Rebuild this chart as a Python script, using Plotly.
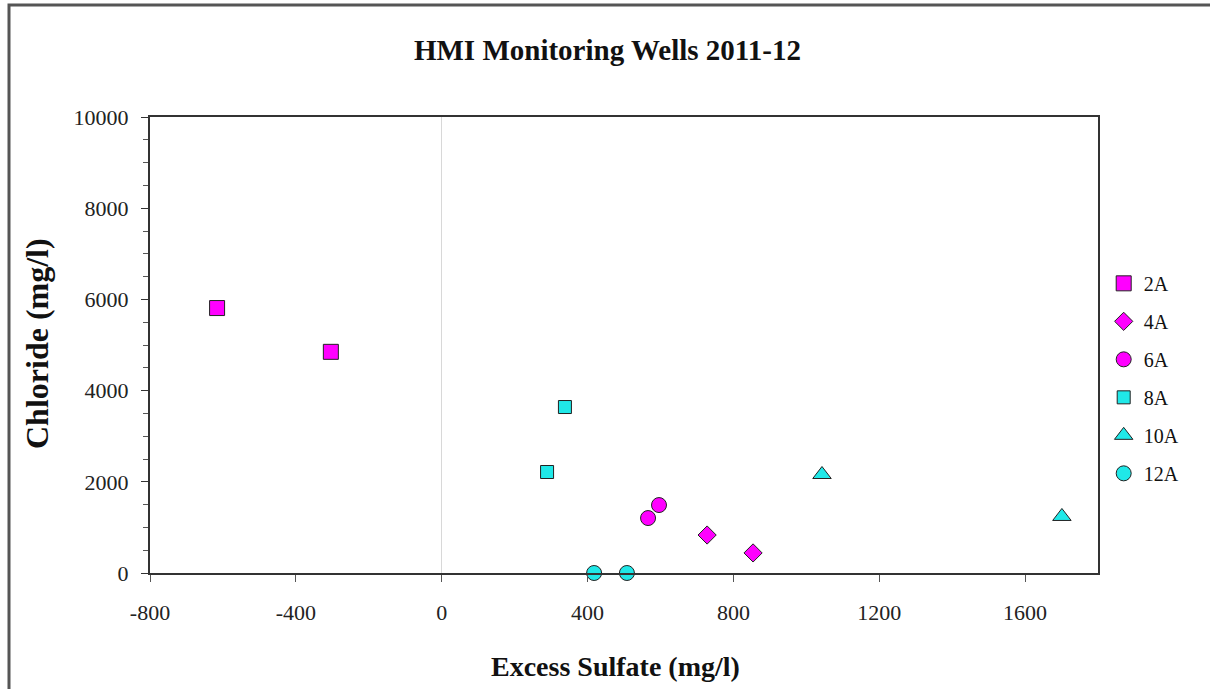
import plotly.graph_objects as go

# ---- data ----
series_names = ["2A", "4A", "6A", "8A", "10A", "12A"]
x_2A = [-616, -304]
y_2A = [5810, 4850]
x_4A = [728, 854]
y_4A = [833, 440]
x_6A = [566, 596]
y_6A = [1205, 1490]
x_8A = [338, 289]
y_8A = [3640, 2215]
x_10A = [1043, 1701]
y_10A = [2160, 1240]
x_12A = [418, 508]
y_12A = [0, 0]

x_ticks = [-800, -400, 0, 400, 800, 1200, 1600]
y_ticks = [0, 2000, 4000, 6000, 8000, 10000]

MAG = "#FF00FF"
CYA = "#20E8E8"
FONT = "Liberation Serif"

styles = {
    "2A": dict(symbol="square", color=MAG, size=15),
    "4A": dict(symbol="diamond", color=MAG, size=14),
    "6A": dict(symbol="circle", color=MAG, size=15),
    "8A": dict(symbol="square", color=CYA, size=13),
    "10A": dict(symbol="triangle-up", color=CYA, size=16),
    "12A": dict(symbol="circle", color=CYA, size=15),
}
data = {
    "2A": (x_2A, y_2A), "4A": (x_4A, y_4A), "6A": (x_6A, y_6A),
    "8A": (x_8A, y_8A), "10A": (x_10A, y_10A), "12A": (x_12A, y_12A),
}

fig = go.Figure()
for name in series_names:
    xs, ys = data[name]
    st = styles[name]
    fig.add_trace(go.Scatter(
        x=xs, y=ys, mode="markers", name=name, legendgroup=name,
        cliponaxis=False,
        marker=dict(symbol=st["symbol"], color=st["color"], size=st["size"],
                    line=dict(color="#222222", width=1)),
    ))

fig.update_layout(
    width=1210, height=689,
    margin=dict(l=150, r=112, t=117, b=116),
    paper_bgcolor="white", plot_bgcolor="white",
    font=dict(family=FONT, color="#111111"),
    title=dict(text="<b>HMI Monitoring Wells 2011-12</b>", x=0.502, xref="container",
               xanchor="center", y=1 - 50 / 689, yref="container", yanchor="middle",
               font=dict(family=FONT, size=29, color="#111111")),
    showlegend=True,
    legend=dict(x=1.006, xanchor="left", y=0.678, yanchor="top",
                font=dict(family=FONT, size=20, color="#111111"),
                tracegroupgap=9, itemwidth=30, bgcolor="rgba(0,0,0,0)"),
    xaxis=dict(range=[-800, 1800], tickvals=x_ticks, ticktext=[str(v) for v in x_ticks],
               showgrid=False, zeroline=True, zerolinecolor="#d8d8d8", zerolinewidth=1,
               showline=True, linecolor="#333333", linewidth=2, mirror=True,
               ticks="outside", ticklen=7, tickcolor="#555555",
               ticklabelstandoff=12,
               tickfont=dict(family=FONT, size=22, color="#222222")),
    yaxis=dict(range=[0, 10000], tickvals=y_ticks, ticktext=[str(v) for v in y_ticks],
               showgrid=False, zeroline=False,
               showline=True, linecolor="#333333", linewidth=2, mirror=True,
               ticks="outside", ticklen=7, tickcolor="#333333",
               ticklabelstandoff=8,
               minor=dict(dtick=500, ticks="outside", ticklen=5, tickcolor="#555555"),
               tickfont=dict(family=FONT, size=22, color="#222222")),
    annotations=[
        dict(text="<b>Chloride (mg/l)</b>", xref="paper", yref="paper",
             x=(37 - 150) / 948, y=(573 - 344) / 456, textangle=-90,
             showarrow=False, xanchor="center", yanchor="middle",
             font=dict(family=FONT, size=32, color="#111111")),
        dict(text="<b>Excess Sulfate (mg/l)</b>", xref="paper", yref="paper",
             x=(615 - 150) / 948, y=(573 - 666) / 456,
             showarrow=False, xanchor="center", yanchor="middle",
             font=dict(family=FONT, size=28, color="#111111")),
    ],
    shapes=[
        dict(type="rect", xref="paper", yref="paper",
             x0=(9 - 150) / 948, x1=(1220 - 150) / 948,
             y0=(573 - 700) / 456, y1=(573 - 5) / 456,
             line=dict(color="#555555", width=3), layer="below"),
    ],
)

fig.write_html("out.html")
